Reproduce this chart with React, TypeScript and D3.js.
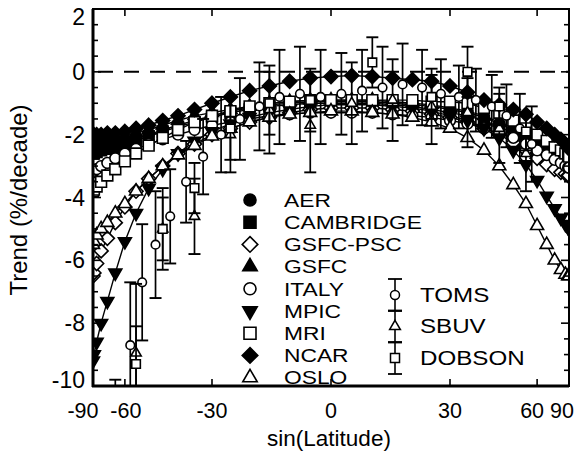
import React from 'react';
import * as d3 from 'd3';

// ---------- DATA ----------
const LATITUDES = [-90, -85, -80, -75, -70, -65, -60, -55, -50, -45, -40, -35, -30, -25, -20, -15, -10, -5, 0, 5, 10, 15, 20, 25, 30, 35, 40, 45, 50, 55, 60, 65, 70, 75, 80, 85, 90];

const AER = [-2.4, -2.4, -2.4, -2.35, -2.3, -2.25, -2.2, -2.1, -2.0, -1.85, -1.7, -1.55, -1.4, -1.25, -1.15, -1.05, -1.0, -0.95, -0.95, -0.95, -0.95, -1.0, -1.05, -1.1, -1.2, -1.3, -1.45, -1.65, -1.85, -2.05, -2.25, -2.45, -2.6, -2.7, -2.75, -2.8, -2.8];
const CAMBRIDGE = [-2.6, -2.6, -2.55, -2.5, -2.45, -2.4, -2.3, -2.2, -2.05, -1.9, -1.75, -1.6, -1.45, -1.3, -1.2, -1.1, -1.05, -1.0, -1.0, -1.0, -1.0, -1.05, -1.1, -1.2, -1.3, -1.4, -1.55, -1.75, -1.95, -2.2, -2.4, -2.6, -2.75, -2.85, -2.9, -2.95, -2.95];
const GSFC_PSC = [-6.5, -6.4, -6.1, -5.7, -5.3, -4.8, -4.3, -3.8, -3.4, -3.0, -2.6, -2.3, -2.0, -1.8, -1.6, -1.45, -1.3, -1.2, -1.15, -1.15, -1.15, -1.2, -1.25, -1.35, -1.45, -1.6, -1.8, -2.0, -2.25, -2.5, -2.75, -2.95, -3.1, -3.2, -3.25, -3.3, -3.3];
const GSFC = [-2.2, -2.2, -2.2, -2.2, -2.15, -2.1, -2.05, -1.95, -1.85, -1.7, -1.55, -1.4, -1.3, -1.2, -1.1, -1.0, -0.95, -0.9, -0.9, -0.9, -0.9, -0.95, -1.0, -1.05, -1.15, -1.25, -1.4, -1.6, -1.8, -2.05, -2.3, -2.5, -2.65, -2.8, -2.9, -2.95, -3.0];
const ITALY = [-3.2, -3.15, -3.1, -3.0, -2.9, -2.75, -2.6, -2.45, -2.3, -2.15, -2.0, -1.85, -1.7, -1.6, -1.5, -1.4, -1.35, -1.3, -1.3, -1.3, -1.3, -1.35, -1.4, -1.45, -1.55, -1.65, -1.8, -1.95, -2.1, -2.3, -2.5, -2.65, -2.8, -2.9, -3.0, -3.05, -3.05];
const MPIC = [-9.2, -9.0, -8.6, -8.0, -7.3, -6.4, -5.4, -4.5, -3.7, -3.1, -2.6, -2.2, -1.9, -1.65, -1.45, -1.3, -1.2, -1.1, -1.05, -1.05, -1.05, -1.1, -1.15, -1.25, -1.4, -1.55, -1.8, -2.1, -2.5, -2.95, -3.45, -3.95, -4.35, -4.65, -4.85, -4.95, -5.0];
const MRI = [-3.8, -3.75, -3.65, -3.5, -3.3, -3.1, -2.85, -2.6, -2.35, -2.1, -1.85, -1.6, -1.4, -1.25, -1.1, -1.0, -0.95, -0.9, -0.9, -0.9, -0.9, -0.9, -0.9, -0.95, -0.95, -1.0, -1.15, -1.3, -1.55, -1.8, -2.0, -2.2, -2.4, -2.5, -2.6, -2.65, -2.7];
const NCAR = [-2.0, -2.0, -2.0, -2.0, -1.95, -1.95, -1.9, -1.8, -1.7, -1.55, -1.4, -1.2, -1.0, -0.8, -0.6, -0.45, -0.3, -0.2, -0.15, -0.12, -0.15, -0.2, -0.25, -0.3, -0.45, -0.65, -0.9, -1.05, -1.2, -1.35, -1.6, -1.8, -2.0, -2.15, -2.3, -2.4, -2.45];
const OSLO = [-5.5, -5.4, -5.2, -5.0, -4.8, -4.5, -4.2, -3.8, -3.4, -3.0, -2.65, -2.35, -2.05, -1.8, -1.6, -1.45, -1.35, -1.3, -1.25, -1.25, -1.3, -1.35, -1.45, -1.6, -1.8, -2.1, -2.5, -3.0, -3.6, -4.2, -4.9, -5.5, -6.0, -6.3, -6.45, -6.5, -6.5];

const MODEL_NAMES = ['AER', 'CAMBRIDGE', 'GSFC-PSC', 'GSFC', 'ITALY', 'MPIC', 'MRI', 'NCAR', 'OSLO'];
const MODEL_VALUES = [AER, CAMBRIDGE, GSFC_PSC, GSFC, ITALY, MPIC, MRI, NCAR, OSLO];

const TOMS_LAT = [-57.5, -52.5, -47.5, -42.5, -37.5, -32.5, -27.5, -22.5, -17.5, -12.5, -7.5, -2.5, 2.5, 7.5, 12.5, 17.5, 22.5, 27.5, 32.5, 37.5, 42.5, 47.5, 52.5, 57.5];
const TOMS_VAL = [-8.7, -6.7, -5.5, -4.6, -3.5, -2.7, -2.0, -1.5, -1.1, -0.8, -0.7, -0.8, -0.7, -0.6, -0.5, -0.4, -0.5, -0.7, -0.8, -0.9, -1.1, -1.4, -1.8, -2.3];
const TOMS_ERR = [2.0, 1.85, 1.7, 1.5, 1.3, 1.2, 1.2, 1.3, 1.4, 1.5, 1.5, 1.5, 1.3, 1.3, 1.3, 1.3, 1.2, 1.1, 1.0, 1.0, 1.0, 1.0, 1.1, 1.2];

const SBUV_LAT = [-55, -45, -35, -25, -15, -5, 5, 15, 25, 35, 45, 55];
const SBUV_VAL = [-8.95, -5.0, -4.6, -2.0, -1.2, -1.7, -1.0, -0.9, -1.1, -1.3, -1.8, -2.6];
const SBUV_ERR = [2.2, 1.3, 1.2, 1.2, 1.4, 1.5, 1.3, 1.3, 1.2, 1.1, 1.1, 1.2];

const DOBSON_LAT = [-65, -55, -45, -35, -25, -15, -5, 10, 25, 35, 45, 55];
const DOBSON_VAL = [-10.2, -9.3, -5.0, -3.7, -1.8, -1.0, -0.9, 0.3, -0.8, 0.0, -1.1, -1.9];
const DOBSON_ERR = [0.4, 1.2, 1.0, 0.8, 1.0, 1.0, 1.0, 0.8, 0.7, 0.8, 0.6, 0.6];

const OBS_NAMES = ['TOMS', 'SBUV', 'DOBSON'];

const X_TICKS = [-90, -60, -30, 0, 30, 60, 90];
const Y_TICKS = [2, 0, -2, -4, -6, -8, -10];

// ---------- STYLE ----------
const W = 588;
const H = 454;
const LEFT = 93;
const RIGHT = 569;
const TOP = 9;
const BOTTOM = 386;
const FONT = 'Liberation Sans, Arial, Helvetica, sans-serif';

const MODEL_STYLE = [
  { shape: 'circle', fill: 'black' },
  { shape: 'square', fill: 'black' },
  { shape: 'diamond', fill: 'white' },
  { shape: 'triUp', fill: 'black' },
  { shape: 'circle', fill: 'white' },
  { shape: 'triDown', fill: 'black' },
  { shape: 'square', fill: 'white' },
  { shape: 'diamond', fill: 'black' },
  { shape: 'triUp', fill: 'white' },
];
const OBS_SHAPES = ['circle', 'triUp', 'square'];

function markerPath(shape: string, s: number): string {
  if (shape === 'circle') return d3.symbol(d3.symbolCircle, Math.PI * s * s)() as string;
  if (shape === 'square') return `M${-s},${-s}h${2 * s}v${2 * s}h${-2 * s}Z`;
  if (shape === 'diamond') {
    const r = s * 1.3;
    return `M0,${-r}L${r},0L0,${r}L${-r},0Z`;
  }
  const a = s * 2.4;
  const t = a / Math.sqrt(3);
  const b = a / (2 * Math.sqrt(3));
  if (shape === 'triUp') return `M0,${-t}L${a / 2},${b}L${-a / 2},${b}Z`;
  return `M0,${t}L${a / 2},${-b}L${-a / 2},${-b}Z`;
}

const xLabelShift: Record<number, number> = { [-90]: -10, [-60]: 1, [60]: -5, [90]: -7 };
const yLabelShift: Record<number, number> = { [2]: 8, [-10]: -6 };

export default function App() {
  const x = d3.scaleLinear().domain([-1, 1]).range([LEFT, RIGHT]);
  const y = d3.scaleLinear().domain([-10, 2]).range([BOTTOM, TOP]);
  const sx = (lat: number) => x(Math.sin((lat * Math.PI) / 180));

  const line = d3
    .line<[number, number]>()
    .x((d) => sx(d[0]))
    .y((d) => y(d[1]));

  const minorY = d3.range(-10, 2.01, 0.5);
  const innerX = X_TICKS.filter((t) => Math.abs(t) < 90);

  const obsSets = [
    { lat: TOMS_LAT, val: TOMS_VAL, err: TOMS_ERR },
    { lat: SBUV_LAT, val: SBUV_VAL, err: SBUV_ERR },
    { lat: DOBSON_LAT, val: DOBSON_VAL, err: DOBSON_ERR },
  ];

  const legendRowY = (i: number) => 200 + i * 22.2;
  const obsRowY = (i: number) => 295 + i * 31.5;

  return (
    <svg width={W} height={H} style={{ position: 'absolute', left: 0, top: 0, background: 'white' }} fontFamily={FONT}>
      <defs>
        <clipPath id="plotclip">
          <rect x={LEFT} y={TOP} width={RIGHT - LEFT} height={BOTTOM - TOP} />
        </clipPath>
      </defs>
      <rect x={0} y={0} width={W} height={H} fill="white" />

      {/* zero dashed line */}
      <line x1={LEFT + 5} x2={RIGHT} y1={y(0)} y2={y(0)} stroke="black" strokeWidth={2} strokeDasharray="15 11" />

      <g clipPath="url(#plotclip)">
        {/* model lines */}
        {MODEL_VALUES.map((vals, mi) => (
          <path
            key={'l' + mi}
            d={line(LATITUDES.map((lat, i) => [lat, vals[i]] as [number, number])) as string}
            fill="none"
            stroke="black"
            strokeWidth={1.4}
          />
        ))}
        {/* model markers */}
        {MODEL_VALUES.map((vals, mi) => (
          <g key={'m' + mi}>
            {LATITUDES.map((lat, i) => (
              <path
                key={i}
                d={markerPath(MODEL_STYLE[mi].shape, 5.4)}
                transform={`translate(${sx(lat)},${y(vals[i])})`}
                fill={MODEL_STYLE[mi].fill}
                stroke="black"
                strokeWidth={1.6}
              />
            ))}
          </g>
        ))}
        {/* observations with error bars */}
        {obsSets.map((o, oi) => (
          <g key={'o' + oi}>
            {o.lat.map((lat, i) => {
              const cx = sx(lat);
              const v = o.val[i];
              const e = o.err[i];
              return (
                <g key={i}>
                  <line x1={cx} x2={cx} y1={y(v + e)} y2={y(v - e)} stroke="black" strokeWidth={1.7} />
                  <line x1={cx - 6} x2={cx + 6} y1={y(v + e)} y2={y(v + e)} stroke="black" strokeWidth={1.9} />
                  <line x1={cx - 6} x2={cx + 6} y1={y(v - e)} y2={y(v - e)} stroke="black" strokeWidth={1.9} />
                  <path
                    d={markerPath(OBS_SHAPES[oi], 4.3)}
                    transform={`translate(${cx},${y(v)})`}
                    fill="white"
                    stroke="black"
                    strokeWidth={1.6}
                  />
                </g>
              );
            })}
          </g>
        ))}
      </g>

      {/* frame */}
      <rect x={LEFT} y={TOP} width={RIGHT - LEFT} height={BOTTOM - TOP} fill="none" stroke="black" strokeWidth={2} />
      <line x1={LEFT} x2={LEFT} y1={TOP} y2={BOTTOM + 1} stroke="black" strokeWidth={3} />
      <line x1={LEFT - 1} x2={RIGHT} y1={BOTTOM} y2={BOTTOM} stroke="black" strokeWidth={3} />

      {/* y ticks */}
      {minorY.map((t, i) => (
        <g key={'yt' + i}>
          <line x1={LEFT} x2={LEFT + (Math.round(t) === t && t % 2 === 0 ? 8 : 5)} y1={y(t)} y2={y(t)} stroke="black" strokeWidth={1.6} />
          <line x1={RIGHT} x2={RIGHT - (Math.round(t) === t && t % 2 === 0 ? 8 : 5)} y1={y(t)} y2={y(t)} stroke="black" strokeWidth={1.6} />
        </g>
      ))}
      {/* x ticks */}
      {innerX.map((t) => (
        <g key={'xt' + t}>
          <line x1={sx(t)} x2={sx(t)} y1={BOTTOM} y2={BOTTOM - 7} stroke="black" strokeWidth={1.6} />
          <line x1={sx(t)} x2={sx(t)} y1={TOP} y2={TOP + 7} stroke="black" strokeWidth={1.6} />
        </g>
      ))}

      {/* y tick labels */}
      {Y_TICKS.map((t) => (
        <text
          key={'yl' + t}
          x={85}
          y={y(t) + (yLabelShift[t] || 0)}
          textAnchor="end"
          dominantBaseline="central"
          fontSize={23}
        >
          {t}
        </text>
      ))}
      {/* x tick labels */}
      {X_TICKS.map((t) => (
        <text key={'xl' + t} x={sx(t) + (xLabelShift[t] || 0)} y={418} textAnchor="middle" fontSize={21.5}>
          {t}
        </text>
      ))}

      {/* axis titles */}
      <text x={329} y={446} textAnchor="middle" fontSize={22.5}>
        sin(Latitude)
      </text>
      <text
        transform={`translate(18,200) rotate(-90)`}
        textAnchor="middle"
        dominantBaseline="central"
        fontSize={24}
      >
        Trend (%/decade)
      </text>

      {/* model legend */}
      {MODEL_NAMES.map((name, i) => (
        <g key={'lg' + i}>
          <path
            d={markerPath(MODEL_STYLE[i].shape, 6)}
            transform={`translate(250,${legendRowY(i)})`}
            fill={MODEL_STYLE[i].fill}
            stroke="black"
            strokeWidth={1.6}
          />
          <g transform={`translate(284,${legendRowY(i)}) scale(1.2,1)`}>
            <text x={0} y={0} dominantBaseline="central" fontSize={19}>
              {name}
            </text>
          </g>
        </g>
      ))}

      {/* obs legend */}
      {OBS_NAMES.map((name, i) => {
        const cy = obsRowY(i);
        return (
          <g key={'ol' + i}>
            <line x1={395} x2={395} y1={cy - 16} y2={cy + 16} stroke="black" strokeWidth={1.6} />
            <line x1={388} x2={402} y1={cy - 16} y2={cy - 16} stroke="black" strokeWidth={1.8} />
            <line x1={388} x2={402} y1={cy + 16} y2={cy + 16} stroke="black" strokeWidth={1.8} />
            <path d={markerPath(OBS_SHAPES[i], 4.5)} transform={`translate(395,${cy})`} fill="white" stroke="black" strokeWidth={1.5} />
            <g transform={`translate(420,${cy}) scale(1.15,1)`}>
              <text x={0} y={0} dominantBaseline="central" fontSize={21}>
                {name}
              </text>
            </g>
          </g>
        );
      })}
    </svg>
  );
}
